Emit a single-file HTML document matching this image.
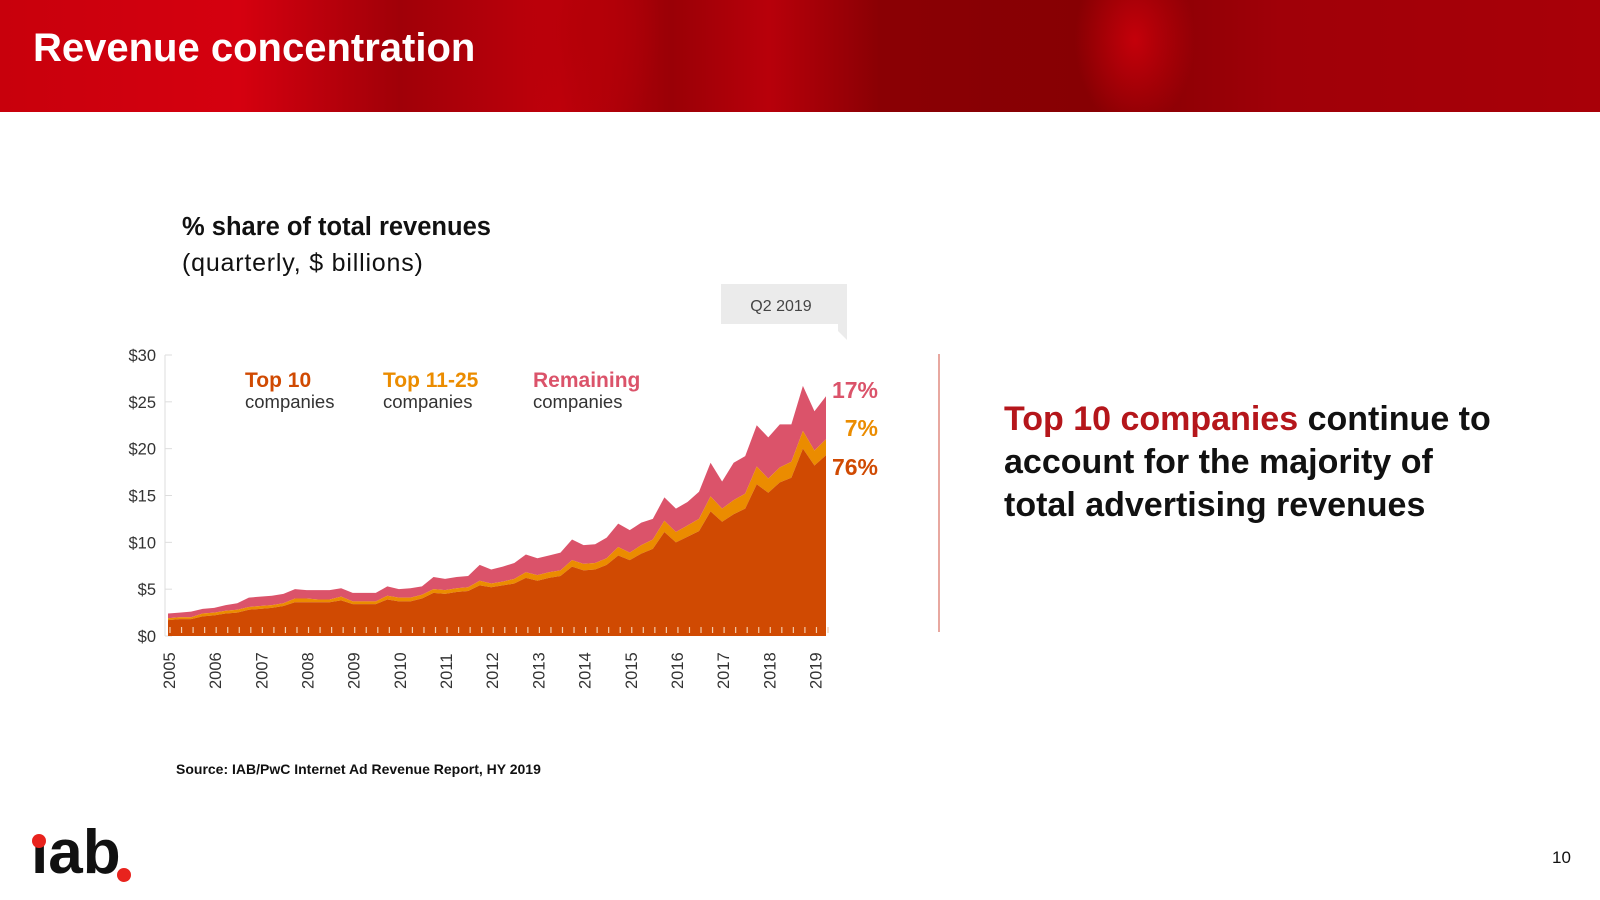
<!DOCTYPE html>
<html><head><meta charset="utf-8"><style>
body{margin:0;width:1600px;height:900px;overflow:hidden;background:#fff;position:relative;font-family:"Liberation Sans",sans-serif}
.abs{position:absolute}
#hdr{left:0;top:0;width:1600px;height:112px;background:
radial-gradient(ellipse 60px 90px at 1135px 40px,#c4000a 0%,rgba(196,0,10,0) 100%),
radial-gradient(ellipse 70px 120px at 590px 30px,#b40008 0%,rgba(180,0,8,0) 100%),
linear-gradient(90deg,#c8000c 0%,#d5000f 15%,#a00008 25%,#c0000b 35%,#9a0006 42%,#b8000a 48%,#8a0004 55%,#870003 68%,#8c0004 72%,#a00008 80%,#a80008 100%)}
#title{left:33px;top:26px;color:#fff;font-size:40px;font-weight:bold;font-family:"Liberation Sans",sans-serif}
.ct{font-family:"Liberation Sans",sans-serif;color:#111}
</style></head><body>
<div id="hdr" class="abs"></div>
<div id="title" class="abs">Revenue concentration</div>
<div class="abs ct" style="left:182px;top:213px;font-size:25.5px;font-weight:bold">% share of total revenues</div>
<div class="abs ct" style="left:182px;top:249px;font-size:25px;letter-spacing:0.8px">(quarterly, $ billions)</div>
<svg class="abs" style="left:0;top:0" width="1600" height="900" id="chart"></svg>
<div class="abs" style="left:938px;top:354px;width:2px;height:278px;background:#e8a8a0"></div>
<div class="abs ct" style="left:1004px;top:398px;font-size:34px;font-weight:bold;line-height:43px"><span style="color:#b5161b">Top 10 companies</span> continue to<br>account for the majority of<br>total advertising revenues</div>
<div class="abs ct" style="left:176px;top:761px;font-size:14px;font-weight:bold">Source: IAB/PwC Internet Ad Revenue Report, HY 2019</div>
<div class="abs" style="left:31px;top:818px;font-size:62px;font-weight:bold;letter-spacing:0px;color:#111;line-height:70px">ıab</div>
<div class="abs" style="left:32px;top:834px;width:14px;height:14px;border-radius:50%;background:#e8231d"></div>
<div class="abs" style="left:117px;top:868px;width:14px;height:14px;border-radius:50%;background:#e8231d"></div>
<div class="abs" style="left:1552px;top:848px;font-size:17px;color:#111">10</div>
<script>
const years=["2005","2006","2007","2008","2009","2010","2011","2012","2013","2014","2015","2016","2017","2018","2019"];
const yTicks=[0,5,10,15,20,25,30];
const top10=[1.7,1.8,1.8,2.1, 2.2,2.4,2.5,2.8, 2.9,3.0,3.2,3.6, 3.6,3.6,3.6,3.8, 3.4,3.4,3.4,3.9, 3.7,3.7,4.0,4.6, 4.5,4.7,4.8,5.4, 5.2,5.4,5.6,6.2, 5.9,6.2,6.4,7.4, 7.0,7.1,7.6,8.6, 8.1,8.8,9.3,11.1, 10.0,10.6,11.2,13.3, 12.2,13.0,13.6,16.2, 15.3,16.4,16.9,20.0, 18.2,19.3];
const top11to25=[0.2,0.2,0.2,0.3, 0.3,0.3,0.3,0.3, 0.3,0.3,0.3,0.4, 0.4,0.3,0.3,0.4, 0.3,0.3,0.3,0.4, 0.4,0.4,0.4,0.4, 0.4,0.4,0.4,0.5, 0.4,0.4,0.5,0.6, 0.6,0.6,0.6,0.7, 0.7,0.7,0.7,0.9, 0.8,0.9,1.0,1.2, 1.1,1.2,1.3,1.6, 1.4,1.5,1.6,1.9, 1.5,1.6,1.7,1.9, 1.6,1.7];
const totals=[2.4,2.5,2.6,2.9, 3.0,3.3,3.5,4.1, 4.2,4.3,4.5,5.0, 4.9,4.9,4.9,5.1, 4.6,4.6,4.6,5.3, 5.0,5.1,5.3,6.3, 6.1,6.3,6.4,7.6, 7.1,7.4,7.8,8.7, 8.3,8.6,8.9,10.3, 9.7,9.8,10.5,12.0, 11.3,12.1,12.5,14.8, 13.6,14.3,15.4,18.5, 16.5,18.5,19.2,22.5, 21.2,22.6,22.6,26.7, 24.0,25.6];
const shareLabels=["17%","7%","76%"];

const svg=document.getElementById('chart');const NS='http://www.w3.org/2000/svg';
const X0=168,X1=826,Y0=636,Y1=355,YMAX=30;
const n=totals.length;
const xs=i=>X0+(X1-X0)*i/(n-1);
const ys=v=>Y0-(Y0-Y1)*v/YMAX;
function mk(t,a){const e=document.createElementNS(NS,t);for(const k in a)e.setAttribute(k,a[k]);svg.appendChild(e);return e;}
const ax=mk('line',{x1:165,y1:Y1,x2:165,y2:Y0,stroke:'#ddd','stroke-width':1});


yTicks.forEach(v=>{
  const tk=mk('line',{x1:165,y1:ys(v),x2:172,y2:ys(v),stroke:'#ddd'});
  
  
  const t=mk('text',{x:156,y:ys(v)+6,'text-anchor':'end','font-size':16.5,fill:'#333','font-family':'Liberation Sans'});
  t.textContent='$'+v;
  
  
});
function area(lower,upper,color,name){
  let d='M'+xs(0)+','+ys(upper[0]);
  for(let i=1;i<n;i++)d+='L'+xs(i)+','+ys(upper[i]);
  for(let i=n-1;i>=0;i--)d+='L'+xs(i)+','+ys(lower[i]);
  const p=mk('path',{d:d+'Z',fill:color});
  
  
}
const zero=totals.map(()=>0);
const mid=top10.map((v,i)=>v+top11to25[i]);
area(mid,totals,'#db536a','area-remaining');
area(top10,mid,'#eb8c00','area-top-11-25');
area(zero,top10,'#d04a02','area-top-10');
for(let i=0;i<n;i++){
  const t=mk('line',{x1:xs(i)+2,y1:Y0-9,x2:xs(i)+2,y2:Y0-3,stroke:'#f3c9a8','stroke-width':1.2});
  
  
}
years.forEach((y,k)=>{
  const x=xs(k*4)+1;
  const t=mk('text',{x:0,y:0,transform:`translate(${x+6},689) rotate(-90)`,'font-size':16.5,fill:'#333','font-family':'Liberation Sans'});
  t.textContent=y;
  
  
});
const leg=[[245,'Top 10','#d04a02'],[383,'Top 11-25','#eb8c00'],[533,'Remaining','#db536a']];
leg.forEach(l=>{
  const a=mk('text',{x:l[0],y:387,'font-size':21,'font-weight':'bold',fill:l[2],'font-family':'Liberation Sans'});a.textContent=l[1];
  
  
  const b=mk('text',{x:l[0],y:408,'font-size':18.5,fill:'#333','font-family':'Liberation Sans'});b.textContent='companies';
  
  
});
const sl=[[398,'#db536a'],[436,'#eb8c00'],[475,'#d04a02']];
shareLabels.forEach((s,i)=>{
  const t=mk('text',{x:878,y:sl[i][0],'text-anchor':'end','font-size':23,'font-weight':'bold',fill:sl[i][1],'font-family':'Liberation Sans'});
  t.textContent=s;
  
  
});
const cb=mk('path',{d:'M721,284H847V340L838,331V324H721Z',fill:'#ebebeb'});


const ct=mk('text',{x:781,y:311,'text-anchor':'middle','font-size':16,fill:'#444','font-family':'Liberation Sans'});
ct.textContent='Q2 2019';


</script>
</body></html>
